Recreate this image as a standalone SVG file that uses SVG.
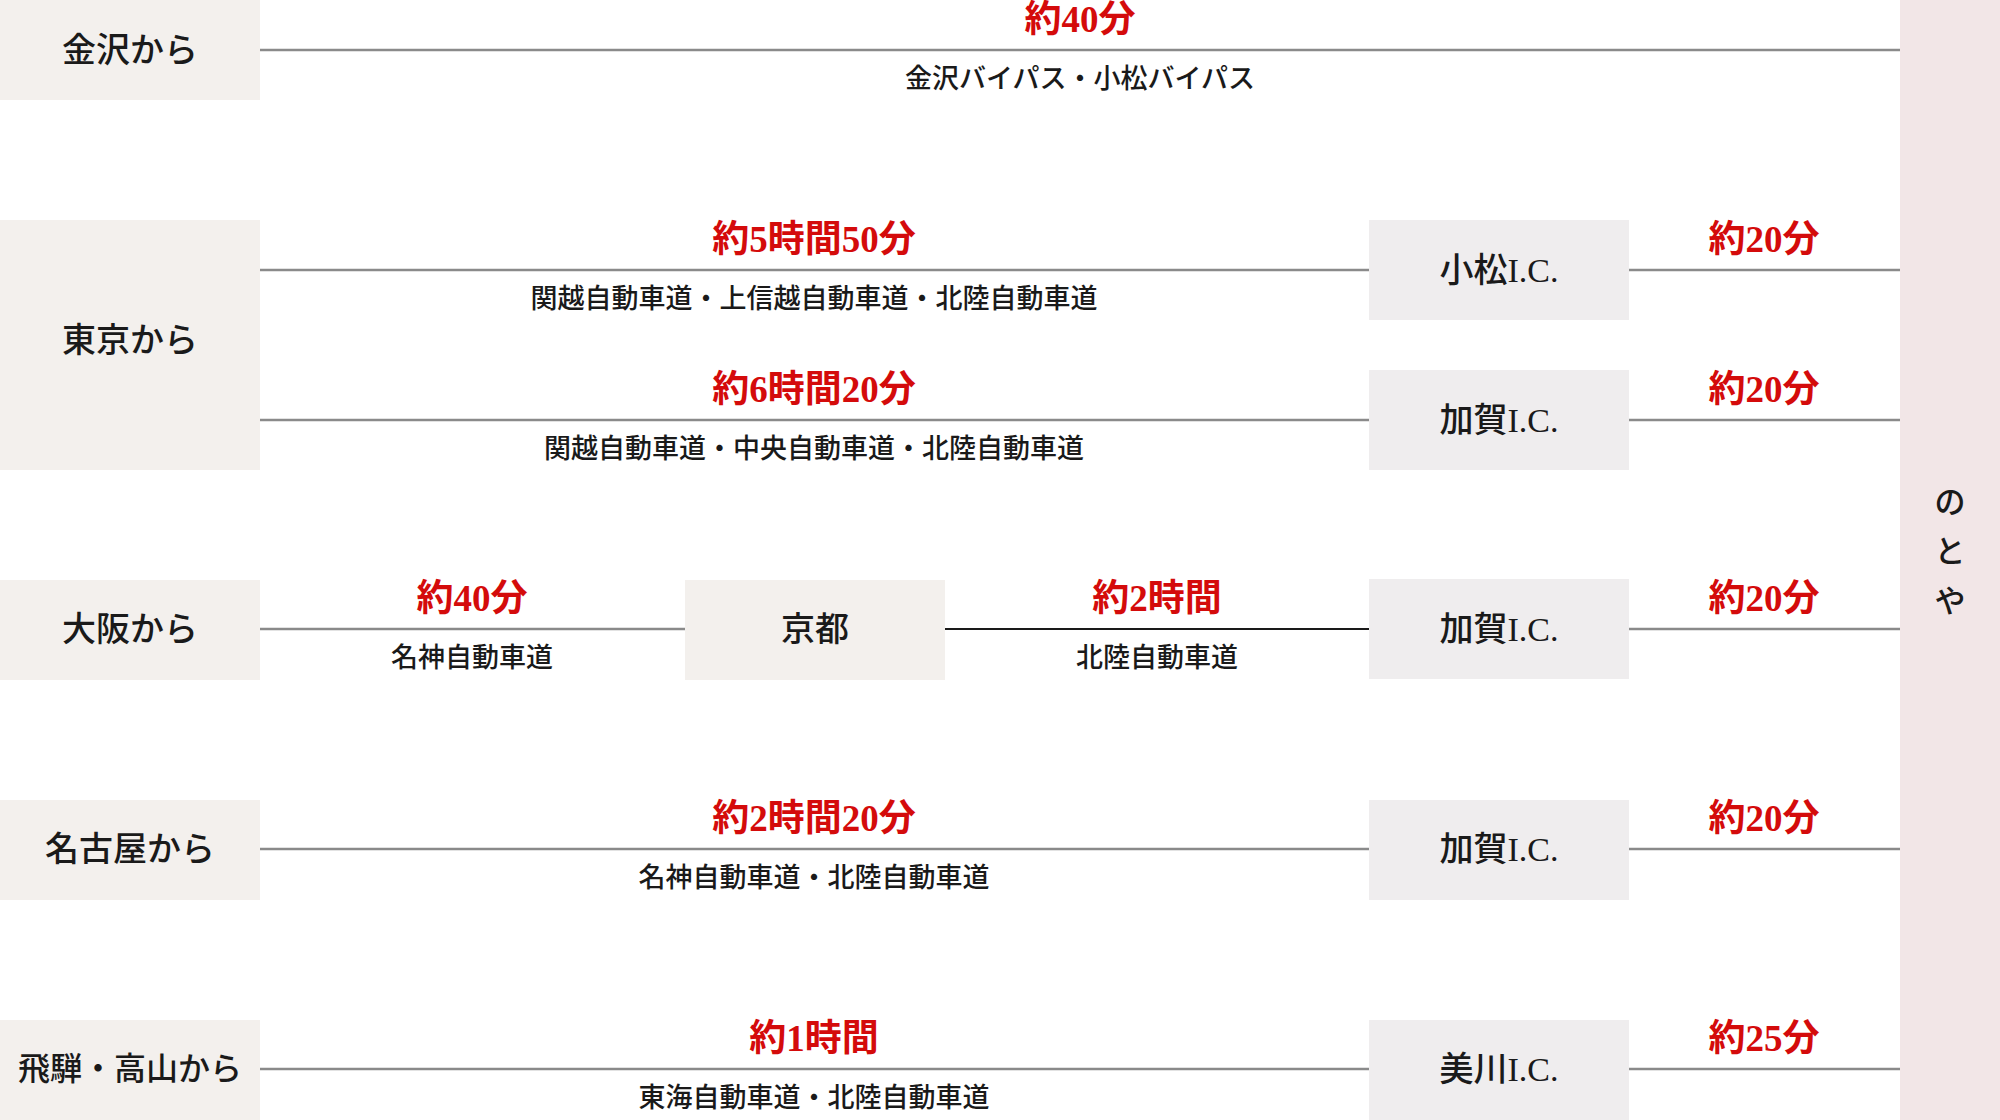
<svg xmlns="http://www.w3.org/2000/svg" width="2000" height="1120" viewBox="0 0 2000 1120">
<style>
text{font-family:"Liberation Serif","Noto Sans CJK JP",serif;text-anchor:middle;dominant-baseline:central}
.src{fill:#f3f0ed}
.ic{fill:#efedee}
.lbl{font-size:34px;font-weight:500;fill:#1a1a1a}
.time{font-size:37px;font-weight:600;fill:#d40b0b}
.road{font-size:27px;font-weight:500;fill:#1a1a1a}
.ln{stroke:#8a8a8a;stroke-width:2.5;fill:none}
.ln2{stroke:#1a1a1a;stroke-width:1.8;fill:none}
</style>
<rect width="2000" height="1120" fill="#ffffff"/>
<g id="dest">
<rect x="1900" y="0" width="100" height="1120" fill="#f2e6e7"/>
<text class="lbl" style="font-size:31px"><tspan x="1950" y="502">の</tspan><tspan x="1950" y="551">と</tspan><tspan x="1950" y="601">や</tspan></text>
</g>
<g id="connectors">
<line class="ln" x1="260" y1="50" x2="1900" y2="50"/>
<line class="ln" x1="260" y1="270" x2="1369" y2="270"/>
<line class="ln" x1="1629" y1="270" x2="1900" y2="270"/>
<line class="ln" x1="260" y1="420" x2="1369" y2="420"/>
<line class="ln" x1="1629" y1="420" x2="1900" y2="420"/>
<line class="ln" x1="260" y1="629" x2="685" y2="629"/>
<line class="ln2" x1="945" y1="629" x2="1369" y2="629"/>
<line class="ln" x1="1629" y1="629" x2="1900" y2="629"/>
<line class="ln" x1="260" y1="849" x2="1369" y2="849"/>
<line class="ln" x1="1629" y1="849" x2="1900" y2="849"/>
<line class="ln" x1="260" y1="1069" x2="1369" y2="1069"/>
<line class="ln" x1="1629" y1="1069" x2="1900" y2="1069"/>
</g>
<g id="labels">
<text class="time" x="1080" y="19">約40分</text>
<text class="road" x="1080" y="79">金沢バイパス・小松バイパス</text>
<text class="time" x="814" y="239">約5時間50分</text>
<text class="road" x="814" y="299">関越自動車道・上信越自動車道・北陸自動車道</text>
<text class="time" x="1764" y="239">約20分</text>
<text class="time" x="814" y="389">約6時間20分</text>
<text class="road" x="814" y="449">関越自動車道・中央自動車道・北陸自動車道</text>
<text class="time" x="1764" y="389">約20分</text>
<text class="time" x="472" y="598">約40分</text>
<text class="road" x="472" y="658">名神自動車道</text>
<text class="time" x="1157" y="598">約2時間</text>
<text class="road" x="1157" y="658">北陸自動車道</text>
<text class="time" x="1764" y="598">約20分</text>
<text class="time" x="814" y="818">約2時間20分</text>
<text class="road" x="814" y="878">名神自動車道・北陸自動車道</text>
<text class="time" x="1764" y="818">約20分</text>
<text class="time" x="814" y="1038">約1時間</text>
<text class="road" x="814" y="1098">東海自動車道・北陸自動車道</text>
<text class="time" x="1764" y="1038">約25分</text>
</g>
<g id="kanazawa"><rect class="src" x="0" y="0" width="260" height="100"/><text class="lbl" x="130" y="50">金沢から</text></g>
<g id="tokyo"><rect class="src" x="0" y="220" width="260" height="250"/><text class="lbl" x="130" y="340">東京から</text></g>
<g id="osaka"><rect class="src" x="0" y="580" width="260" height="100"/><text class="lbl" x="130" y="629">大阪から</text></g>
<g id="nagoya"><rect class="src" x="0" y="800" width="260" height="100"/><text class="lbl" x="130" y="849">名古屋から</text></g>
<g id="hida"><rect class="src" x="0" y="1020" width="260" height="100"/><text class="lbl" x="130" y="1069" style="font-size:32px">飛騨・高山から</text></g>
<g id="kyoto"><rect class="src" x="685" y="580" width="260" height="100"/><text class="lbl" x="815" y="629">京都</text></g>
<g id="komatsu-ic"><rect class="ic" x="1369" y="220" width="260" height="100"/><text class="lbl" x="1499" y="270">小松I.C.</text></g>
<g id="kaga-ic-1"><rect class="ic" x="1369" y="370" width="260" height="100"/><text class="lbl" x="1499" y="420">加賀I.C.</text></g>
<g id="kaga-ic-2"><rect class="ic" x="1369" y="579" width="260" height="100"/><text class="lbl" x="1499" y="629">加賀I.C.</text></g>
<g id="kaga-ic-3"><rect class="ic" x="1369" y="800" width="260" height="100"/><text class="lbl" x="1499" y="849">加賀I.C.</text></g>
<g id="mikawa-ic"><rect class="ic" x="1369" y="1020" width="260" height="100"/><text class="lbl" x="1499" y="1069">美川I.C.</text></g>
</svg>
